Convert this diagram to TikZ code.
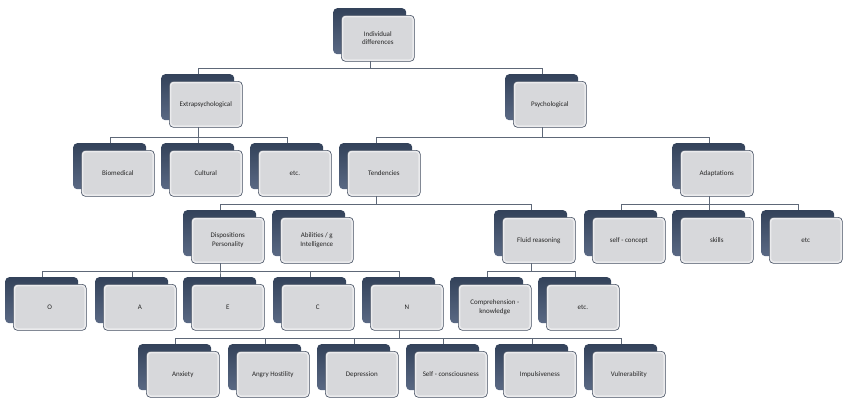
\documentclass[tikz,border=0pt]{standalone}
\usepackage{fontspec}
\setmainfont{Carlito}
\usetikzlibrary{calc}
\definecolor{backtop}{HTML}{33425A}
\definecolor{backbot}{HTML}{5A6984}
\definecolor{frontfill}{HTML}{D7D8DB}
\definecolor{frontrim}{HTML}{EBEBED}
\definecolor{edgecol}{HTML}{434E60}
\definecolor{conncol}{HTML}{5E6878}
\tikzset{
  backbox/.style={rounded corners=4pt, top color=backtop, bottom color=backbot,
    minimum width=73pt, minimum height=46pt, inner sep=0pt, draw=none},
  frontbox/.style={rounded corners=4pt, fill=frontrim, draw=edgecol, line width=0.6pt,
    minimum width=73pt, minimum height=46pt, inner sep=1pt, align=center,
    font=\fontsize{7}{8.5}\selectfont, text=black!85,
    path picture={\fill[frontfill, rounded corners=3pt]
      ([shift={(2pt,-2pt)}]path picture bounding box.north west) rectangle
      ([shift={(-2pt,2pt)}]path picture bounding box.south east);}},
  connline/.style={draw=conncol, line width=0.8pt},
}
\newcommand{\orgbox}[4]{%
  \node[backbox, anchor=north west] (#1-b) at (#2,#3) {};
  \node[frontbox, anchor=north west] (#1) at (#2+8,#3+7) {#4};
  \coordinate (#1-t) at (#2+37,#3);
  \coordinate (#1-d) at (#2+37,#3+53);
}
\newcommand{\orglink}[2]{\draw[connline] (#1-d) |- ([yshift=6pt]#2-t) -- (#2-t);}
\begin{document}
\begin{tikzpicture}[x=1pt,y=-1pt]
\useasboundingbox (0,0) rectangle (848,405);
% nodes
\orgbox{root}{333}{8}{Individual\\differences}
\orgbox{extra}{161}{74}{Extrapsychological}
\orgbox{psych}{505}{74}{Psychological}
\orgbox{bio}{73}{143}{Biomedical}
\orgbox{cult}{161}{143}{Cultural}
\orgbox{etca}{250}{143}{etc.}
\orgbox{tend}{339}{143}{Tendencies}
\orgbox{adapt}{672}{143}{Adaptations}
\orgbox{disp}{183}{210}{Dispositions\\Personality}
\orgbox{abil}{272}{210}{Abilities / g\\Intelligence}
\orgbox{fluid}{494}{210}{Fluid reasoning}
\orgbox{selfcon}{584}{210}{self - concept}
\orgbox{skills}{672}{210}{skills}
\orgbox{etcc}{761}{210}{etc}
\orgbox{O}{5}{277}{O}
\orgbox{A}{95}{277}{A}
\orgbox{E}{183}{277}{E}
\orgbox{C}{273}{277}{C}
\orgbox{N}{362}{277}{N}
\orgbox{comp}{450}{277}{Comprehension -\\knowledge}
\orgbox{etcb}{538}{277}{etc.}
\orgbox{anx}{138}{344}{Anxiety}
\orgbox{angry}{228}{344}{Angry Hostility}
\orgbox{dep}{317}{344}{Depression}
\orgbox{selfc}{406}{344}{Self - consciousness}
\orgbox{imp}{495}{344}{Impulsiveness}
\orgbox{vul}{584}{344}{Vulnerability}
% connectors
\orglink{root}{extra}
\orglink{root}{psych}
\orglink{extra}{bio}
\orglink{extra}{cult}
\orglink{extra}{etca}
\orglink{psych}{tend}
\orglink{psych}{adapt}
\orglink{tend}{disp}
\orglink{tend}{fluid}
\orglink{adapt}{selfcon}
\orglink{adapt}{skills}
\orglink{adapt}{etcc}
\orglink{disp}{O}
\orglink{disp}{A}
\orglink{disp}{E}
\orglink{disp}{C}
\orglink{disp}{N}
\orglink{fluid}{comp}
\orglink{fluid}{etcb}
\orglink{N}{anx}
\orglink{N}{angry}
\orglink{N}{dep}
\orglink{N}{selfc}
\orglink{N}{imp}
\orglink{N}{vul}
\end{tikzpicture}
\end{document}
